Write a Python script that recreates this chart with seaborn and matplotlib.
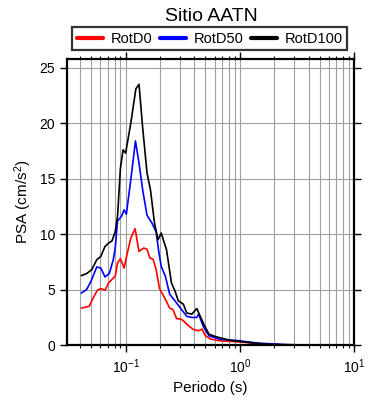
import numpy as np
import pandas as pd
import matplotlib
matplotlib.use("Agg")
import matplotlib.pyplot as plt
import seaborn as sns
from matplotlib.ticker import LogLocator, MultipleLocator

# Spectra (period in s, PSA in cm/s^2)
t_d0 = [0.041, 0.048, 0.052, 0.0566, 0.0607, 0.066, 0.071, 0.078, 0.081, 0.085,
        0.090, 0.097, 0.102, 0.111, 0.121, 0.131, 0.144, 0.154, 0.163, 0.174,
        0.185, 0.198, 0.22, 0.243, 0.26, 0.279, 0.305, 0.32, 0.355, 0.394,
        0.435, 0.466, 0.5, 0.555, 0.66, 0.99, 1.6, 2.5, 4.0, 6.0, 10.0]
psa_d0 = [3.35, 3.5, 4.25, 4.95, 5.1, 4.95, 5.6, 6.05, 6.2, 7.4,
          7.8, 6.95, 8.0, 9.65, 10.5, 8.45, 8.75, 8.65, 7.85, 7.75,
          6.8, 5.1, 4.25, 3.35, 3.2, 2.4, 2.35, 2.2, 1.75, 1.4,
          1.3, 1.45, 0.85, 0.55, 0.4, 0.3, 0.1, 0.04, 0.02, 0.01, 0.005]

t_d50 = [0.041, 0.0455, 0.0505, 0.0559, 0.0607, 0.066, 0.072, 0.078, 0.081, 0.085,
         0.092, 0.097, 0.1015, 0.111, 0.122, 0.131, 0.141, 0.154, 0.17, 0.185,
         0.194, 0.205, 0.223, 0.243, 0.27, 0.299, 0.343, 0.38, 0.42, 0.435,
         0.483, 0.536, 0.66, 0.99, 1.4, 2.5, 4.0, 6.0, 10.0]
psa_d50 = [4.7, 5.0, 5.9, 7.05, 6.95, 6.15, 6.45, 7.7, 8.7, 11.2,
           11.6, 12.2, 11.8, 14.9, 18.4, 16.4, 14.0, 11.7, 11.0, 10.2,
           8.6, 7.1, 6.2, 4.6, 4.0, 3.4, 2.6, 2.5, 2.5, 2.8,
           1.6, 0.85, 0.55, 0.4, 0.2, 0.05, 0.02, 0.01, 0.005]

t_d100 = [0.041, 0.0455, 0.0505, 0.0559, 0.0607, 0.066, 0.071, 0.076, 0.081, 0.085,
          0.090, 0.095, 0.1, 0.111, 0.123, 0.131, 0.141, 0.154, 0.165, 0.179,
          0.192, 0.205, 0.228, 0.252, 0.27, 0.289, 0.32, 0.343, 0.38, 0.42,
          0.45, 0.483, 0.536, 0.61, 0.81, 1.07, 1.6, 2.3, 4.0, 6.0, 10.0]
psa_d100 = [6.27, 6.45, 6.8, 7.7, 8.0, 8.9, 9.2, 9.4, 10.2, 11.6,
            15.9, 17.6, 17.3, 20.0, 23.1, 23.5, 19.6, 15.5, 14.0, 11.0,
            9.5, 10.1, 8.6, 5.6, 4.9, 4.0, 3.7, 2.9, 2.8, 3.3,
            2.6, 1.9, 1.0, 0.78, 0.45, 0.3, 0.1, 0.05, 0.02, 0.01, 0.005]

series = ["RotD0", "RotD50", "RotD100"]
colors = ["red", "blue", "black"]

df = pd.concat([
    pd.DataFrame({"T": t_d0, "PSA": psa_d0, "comp": "RotD0"}),
    pd.DataFrame({"T": t_d50, "PSA": psa_d50, "comp": "RotD50"}),
    pd.DataFrame({"T": t_d100, "PSA": psa_d100, "comp": "RotD100"}),
])

sns.set_style("ticks")
plt.rcParams["font.family"] = ["Liberation Sans", "DejaVu Sans"]
plt.rcParams["mathtext.fontset"] = "custom"
plt.rcParams["mathtext.rm"] = "Liberation Sans"
plt.rcParams["mathtext.default"] = "regular"
plt.rcParams["text.color"] = "black"
plt.rcParams["axes.labelcolor"] = "black"

fig = plt.figure(figsize=(3.9, 4.0), dpi=100)
ax = fig.add_axes([0.171, 0.137, 0.737, 0.716])

for name, c in zip(series, colors):
    sns.lineplot(data=df[df["comp"] == name], x="T", y="PSA", color=c,
                 lw=1.2, label=name, ax=ax, sort=False, estimator=None)

ax.set_xscale("log")
ax.set_xlim(0.0305, 10)
ax.set_ylim(0, 25.8)
ax.yaxis.set_major_locator(MultipleLocator(5))
ax.xaxis.set_major_locator(LogLocator(base=10))
ax.xaxis.set_minor_locator(LogLocator(base=10, subs=np.arange(2, 10)))

ax.grid(which="both", axis="x", color="#a0a0a0", lw=0.8)
ax.grid(which="major", axis="y", color="#a0a0a0", lw=0.8)
ax.set_axisbelow(True)

for s in ax.spines.values():
    s.set_linewidth(1.6)
    s.set_color("black")
ax.tick_params(which="major", direction="out", length=5, width=1,
               labelsize=10, top=True, right=True, colors="black")
ax.tick_params(which="minor", direction="out", length=2.5, width=0.8,
               top=True, right=True, colors="black")

ax.set_xlabel("Periodo (s)", fontsize=11)
ax.set_ylabel("PSA (cm/s$^2$)", fontsize=11)
fig.text(0.541, 0.958, "Sitio AATN", fontsize=14, ha="center", va="center")

leg = ax.legend(loc="lower left", bbox_to_anchor=(0.02, 1.03, 0.956, 0.08),
                mode="expand", ncol=3, frameon=True, fancybox=False,
                fontsize=10.5, handlelength=1.8, borderaxespad=0,
                handletextpad=0.5, columnspacing=0.8, borderpad=0.3)
leg.get_frame().set_edgecolor("black")
leg.get_frame().set_linewidth(1.6)
for h in leg.get_lines():
    h.set_linewidth(3)

fig.savefig("out.png", dpi=100)
